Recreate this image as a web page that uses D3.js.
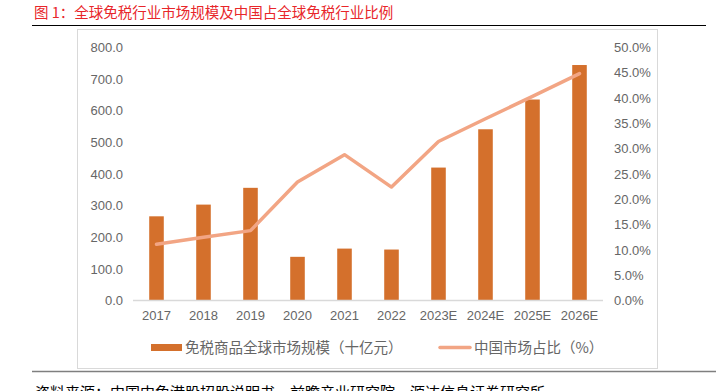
<!DOCTYPE html>
<html>
<head>
<meta charset="utf-8">
<script src="https://cdn.jsdelivr.net/npm/d3@7"></script>
<style>
  html, body { margin: 0; padding: 0; background: #fff; }
  svg { display: block; font-family: "Noto Sans CJK SC", "Noto Sans", sans-serif; }
</style>
</head>
<body>
<div id="grafico"></div>
<script>
// dados do gráfico
const anos = ["2017", "2018", "2019", "2020", "2021", "2022", "2023E", "2024E", "2025E", "2026E"];
const mercadoGlobal = [266, 303, 356, 138, 164, 161, 420, 541, 635, 744];   // 十亿元
const participacaoChina = [11.1, 12.5, 13.8, 23.4, 28.8, 22.4, 31.4, 35.9, 40.3, 44.8]; // %
const ticksEsq = [0, 100, 200, 300, 400, 500, 600, 700, 800];
const ticksDir = [0, 5, 10, 15, 20, 25, 30, 35, 40, 45, 50];

const width = 718, height = 391;
const svg = d3.select("#grafico").append("svg")
  .attr("width", width)
  .attr("height", height);

// título
svg.append("text")
  .attr("x", 34).attr("y", 18)
  .attr("fill", "#E8262A")
  .attr("font-size", 14.5)
  .text("图 1：全球免税行业市场规模及中国占全球免税行业比例");
svg.append("line")
  .attr("x1", 32).attr("x2", 706).attr("y1", 25.5).attr("y2", 25.5)
  .attr("stroke", "#000").attr("stroke-width", 1.2);

// moldura
svg.append("rect")
  .attr("x", 77.5).attr("y", 29.5).attr("width", 580).attr("height", 339)
  .attr("fill", "none").attr("stroke", "#D9D9D9");

const x = d3.scaleBand().domain(anos).range([133, 603]).paddingInner(0.69).paddingOuter(0.345);
const yEsq = d3.scaleLinear().domain([0, 800]).range([300.5, 47.3]);
const yDir = d3.scaleLinear().domain([0, 50]).range([300.5, 47.3]);

// eixo esquerdo
svg.append("g")
  .attr("transform", "translate(123,0)")
  .call(d3.axisLeft(yEsq).tickValues(ticksEsq).tickSize(0).tickPadding(0).tickFormat(d3.format(".1f")))
  .call(g => g.select(".domain").remove())
  .call(g => g.selectAll("text").attr("fill", "#666").attr("font-size", 13).attr("font-family", "Liberation Sans, sans-serif"));

// eixo direito
svg.append("g")
  .attr("transform", "translate(614,0)")
  .call(d3.axisRight(yDir).tickValues(ticksDir).tickSize(0).tickPadding(0).tickFormat(d => d.toFixed(1) + "%"))
  .call(g => g.select(".domain").remove())
  .call(g => g.selectAll("text").attr("fill", "#666").attr("font-size", 13).attr("font-family", "Liberation Sans, sans-serif"));

// barras
svg.append("g")
  .selectAll("rect")
  .data(mercadoGlobal)
  .enter()
  .append("rect")
  .attr("x", (d, i) => x(anos[i]))
  .attr("y", d => yEsq(d))
  .attr("width", x.bandwidth())
  .attr("height", d => yEsq(0) - yEsq(d))
  .attr("fill", "#D4702C");

// linha base
svg.append("line")
  .attr("x1", 133).attr("x2", 603).attr("y1", 300.5).attr("y2", 300.5)
  .attr("stroke", "#D9D9D9").attr("stroke-width", 1.5);

// eixo x
svg.append("g")
  .attr("transform", "translate(0,301)")
  .call(d3.axisBottom(x).tickSize(0).tickPadding(10))
  .call(g => g.select(".domain").remove())
  .call(g => g.selectAll("text").attr("fill", "#666").attr("font-size", 13).attr("font-family", "Liberation Sans, sans-serif"));

// linha de participação
const linha = d3.line()
  .x((d, i) => x(anos[i]) + x.bandwidth() / 2)
  .y(d => yDir(d));
svg.append("path")
  .datum(participacaoChina)
  .attr("d", linha)
  .attr("fill", "none")
  .attr("stroke", "#F2A584")
  .attr("stroke-width", 3.5)
  .attr("stroke-linecap", "round")
  .attr("stroke-linejoin", "round");

// legenda
const leg = svg.append("g").attr("font-size", 14.5);
leg.append("rect").attr("x", 151).attr("y", 344).attr("width", 31).attr("height", 7).attr("fill", "#D4702C");
leg.append("text").attr("x", 185).attr("y", 353).attr("fill", "#666").text("免税商品全球市场规模（十亿元）");
leg.append("line").attr("x1", 440).attr("x2", 470).attr("y1", 347.5).attr("y2", 347.5)
  .attr("stroke", "#F2A584").attr("stroke-width", 3.5).attr("stroke-linecap", "round");
leg.append("text").attr("x", 474).attr("y", 353).attr("fill", "#666").text("中国市场占比（%）");

// rodapé
svg.append("line")
  .attr("x1", 32).attr("x2", 716).attr("y1", 371.5).attr("y2", 371.5)
  .attr("stroke", "#7F7F7F").attr("stroke-width", 1.5);
svg.append("text")
  .attr("x", 35).attr("y", 398)
  .attr("font-size", 15).attr("fill", "#000")
  .text("资料来源：中国中免港股招股说明书，前瞻产业研究院，源达信息证券研究所");
</script>
</body>
</html>
